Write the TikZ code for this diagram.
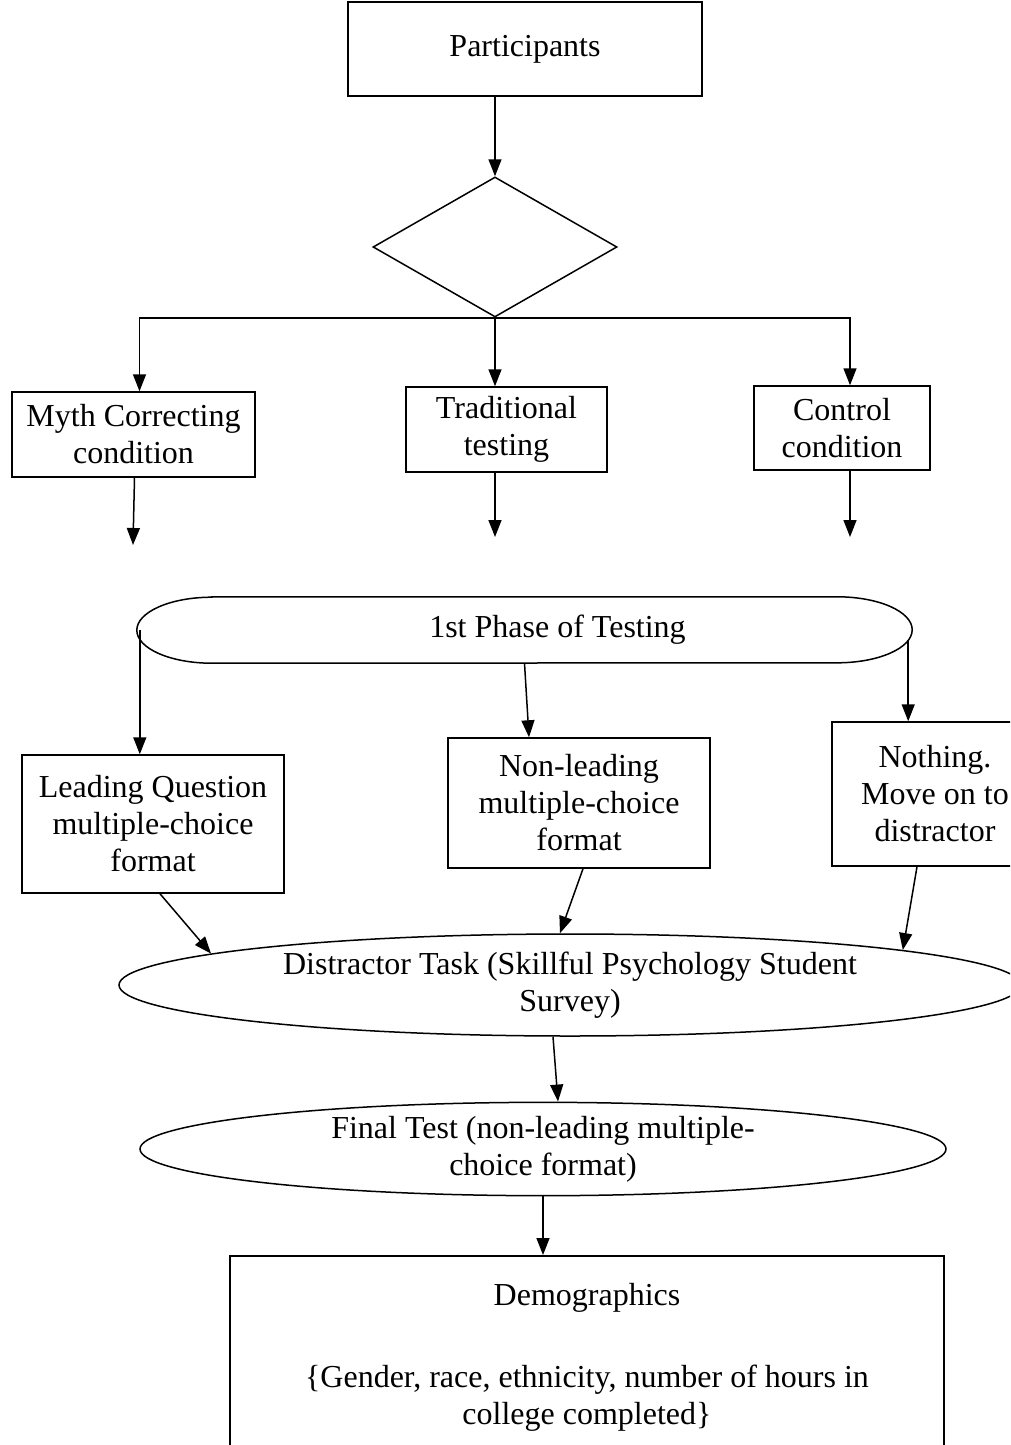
\documentclass[tikz,border=0pt]{standalone}
\usepackage{fontspec}
\setmainfont{Liberation Serif}
\usetikzlibrary{arrows.meta,positioning,shapes.geometric}

\begin{document}
\begin{tikzpicture}[
  x=1pt, y=-1pt,
  font=\fontsize{32}{37}\selectfont,
  box/.style={rectangle, draw, line width=1.5pt, align=center, inner sep=0pt},
  choice/.style={diamond, draw, line width=1.5pt, inner sep=0pt, aspect=1.74, minimum width=244pt, minimum height=140pt},
  oval/.style={ellipse, draw, line width=1.5pt, align=center, inner sep=0pt},
  arrow/.style={-{Triangle[length=17pt,width=13pt]}, line width=1.5pt}
]
\useasboundingbox (0,0) rectangle (1010,1445);
\clip (0,0) rectangle (1010,1445);

\node[box, minimum width=354pt, minimum height=94pt] (part) at (525,49) {Participants};
\node[choice] (split) at (495,247) {};

\node[box, minimum width=243pt, minimum height=85pt] (myth) at (133.5,434.5) {Myth Correcting\\condition};
\node[box, minimum width=201pt, minimum height=85pt] (trad) at (506.5,429.5) {Traditional\\testing};
\node[box, minimum width=176pt, minimum height=84pt] (ctrl) at (842,428) {Control\\condition};
\coordinate (mythend) at (133,545);
\coordinate (tradend) at (495,537);
\coordinate (ctrlend) at (850,537);

% first phase: flat top and bottom, oval ends
\node[rectangle, minimum width=775pt, minimum height=66pt] (phase) at (524.5,630) {\hspace*{66pt}1st Phase of Testing};
\draw[line width=1.5pt] ([xshift=75pt]phase.north west) -- ([xshift=-75pt]phase.north east)
  arc[start angle=90, end angle=-90, x radius=75pt, y radius=33pt]
  -- ([xshift=75pt]phase.south west)
  arc[start angle=270, end angle=90, x radius=75pt, y radius=33pt] -- cycle;

\node[box, minimum width=262pt, minimum height=138pt] (lead) at (153,824) {Leading Question\\multiple-choice\\format};
\node[box, minimum width=262pt, minimum height=130pt] (nonlead) at (579,803) {Non-leading\\multiple-choice\\format};
\node[box, minimum width=206pt, minimum height=144pt] (nothing) at (935,794) {Nothing.\\Move on to\\distractor};

\node[oval, minimum width=902pt, minimum height=102pt] (distract) at (570,985) {Distractor Task (Skillful Psychology Student\\Survey)};
\node[oval, minimum width=806pt, minimum height=82pt] (final) at (543,1149) {Final Test (non-leading multiple-\\choice format)};
\node[box, anchor=north, minimum width=714pt, inner ysep=28pt] (demo) at (587,1255)
  {Demographics\\[45pt]\{Gender, race, ethnicity, number of hours in\\college completed\}};

\draw[arrow] (split.north |- part.south) -- (split.north);
\draw[arrow] (split.south) -| ([xshift=6pt]myth.north);
\draw[arrow] (split.south) -- (split.south |- trad.north);
\draw[arrow] (split.south) -| ([xshift=8pt]ctrl.north);
\draw[arrow] ([xshift=1pt]myth.south) -- (mythend);
\draw[arrow] (split.south |- trad.south) -- (tradend);
\draw[arrow] ([xshift=8pt]ctrl.south) -- (ctrlend);
\draw[arrow] ([xshift=3pt]phase.west) -- ([xshift=3pt]phase.west |- lead.north);
\draw[arrow] (phase.south) -- ([xshift=-50pt]nonlead.north);
\draw[arrow] ([xshift=-4pt,yshift=-10pt]phase.east) -- ([xshift=-4pt]phase.east |- nothing.north);
\draw[arrow] ([xshift=7pt]lead.south) -- (distract.175);
\draw[arrow] ([xshift=4pt]nonlead.south) -- (distract.101);
\draw[arrow] ([xshift=-18pt]nothing.south) -- (distract.6);
\draw[arrow] ([xshift=-17pt]distract.south) -- ([xshift=15pt]final.north);
\draw[arrow] (final.south) -- (final.south |- demo.north);
\end{tikzpicture}
\end{document}
